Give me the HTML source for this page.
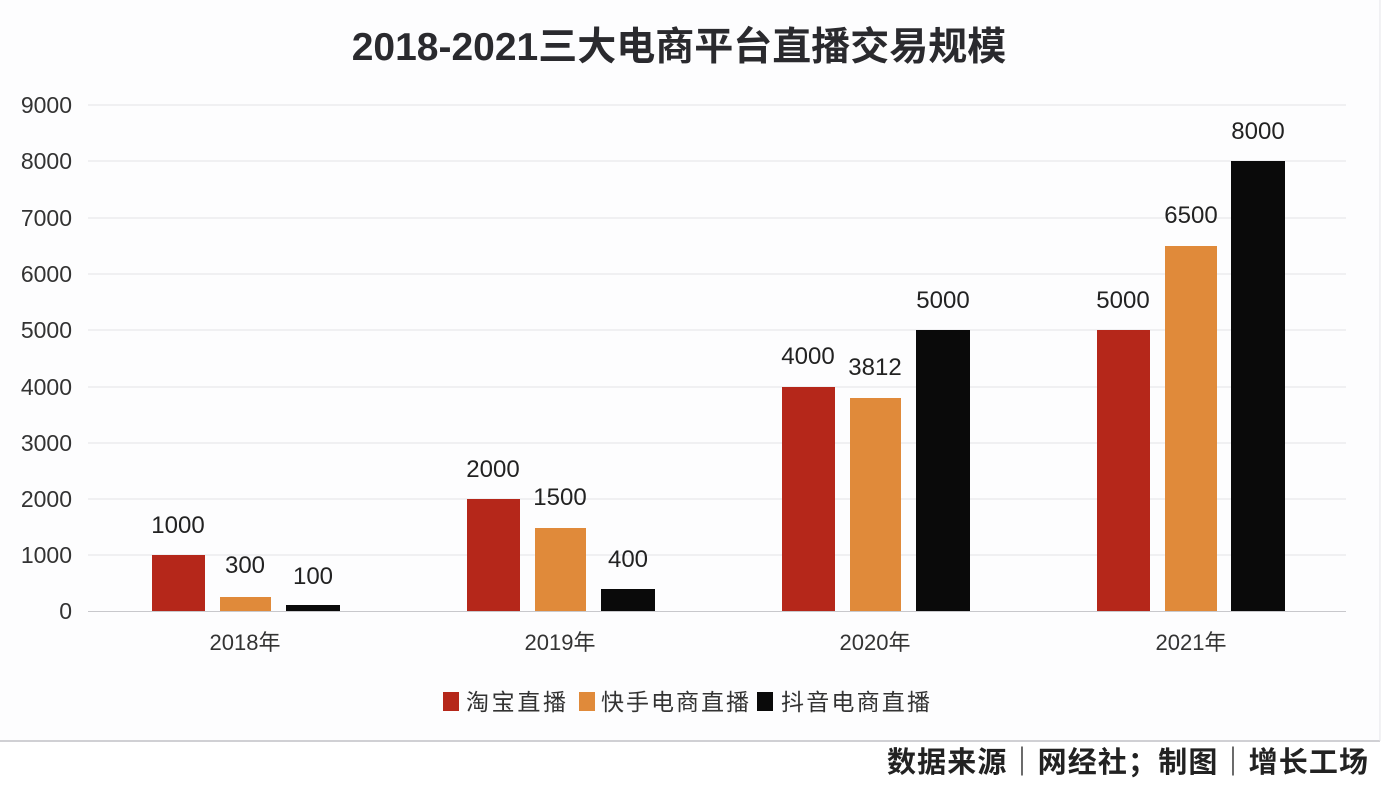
<!DOCTYPE html><html><head><meta charset="utf-8"><style>
body{margin:0;background:#fff;width:1384px;height:786px;overflow:hidden;font-family:"Liberation Sans","Noto Sans CJK SC",sans-serif}
</style></head><body>
<svg width="1384" height="786" xmlns="http://www.w3.org/2000/svg" font-family="Liberation Sans, Noto Sans CJK SC, sans-serif">
<rect width="1384" height="786" fill="#fff"/>
<rect x="0" y="0" width="1380" height="741" fill="#fdfdfe"/>
<line x1="0" y1="741" x2="1380" y2="741" stroke="#d0d0d4" stroke-width="2"/>
<line x1="1380" y1="0" x2="1380" y2="741" stroke="#e4e4e8" stroke-width="1"/>
<text x="679" y="60" text-anchor="middle" font-size="39" font-weight="bold" fill="#2a2a2e">2018-2021三大电商平台直播交易规模</text>
<g stroke="#e2e2e6" stroke-width="1">
<line x1="88" y1="105" x2="1346" y2="105"/><line x1="88" y1="161" x2="1346" y2="161"/><line x1="88" y1="218" x2="1346" y2="218"/><line x1="88" y1="274" x2="1346" y2="274"/><line x1="88" y1="330" x2="1346" y2="330"/><line x1="88" y1="387" x2="1346" y2="387"/><line x1="88" y1="443" x2="1346" y2="443"/><line x1="88" y1="499" x2="1346" y2="499"/><line x1="88" y1="555" x2="1346" y2="555"/>
</g>
<line x1="88" y1="611.5" x2="1346" y2="611.5" stroke="#c8c8cc" stroke-width="1"/>
<g font-size="23" fill="#333" text-anchor="end">
<text x="72" y="113">9000</text><text x="72" y="169">8000</text><text x="72" y="226">7000</text><text x="72" y="282">6000</text><text x="72" y="338">5000</text><text x="72" y="395">4000</text><text x="72" y="451">3000</text><text x="72" y="507">2000</text><text x="72" y="563">1000</text><text x="72" y="619">0</text>
</g>
<g>
<rect x="152" y="555" width="53" height="56" fill="#b5271a"/><rect x="220" y="597" width="51" height="14" fill="#e08a3a"/><rect x="286" y="605" width="54" height="6" fill="#0a0a0a"/>
<rect x="467" y="499" width="53" height="112" fill="#b5271a"/><rect x="535" y="528" width="51" height="83" fill="#e08a3a"/><rect x="601" y="589" width="54" height="22" fill="#0a0a0a"/>
<rect x="782" y="387" width="53" height="224" fill="#b5271a"/><rect x="850" y="398" width="51" height="213" fill="#e08a3a"/><rect x="916" y="330" width="54" height="281" fill="#0a0a0a"/>
<rect x="1097" y="330" width="53" height="281" fill="#b5271a"/><rect x="1165" y="246" width="52" height="365" fill="#e08a3a"/><rect x="1231" y="161" width="54" height="450" fill="#0a0a0a"/>
</g>
<g font-size="24" fill="#222" text-anchor="middle">
<text x="178" y="533">1000</text><text x="245" y="573">300</text><text x="313" y="584">100</text>
<text x="493" y="477">2000</text><text x="560" y="505">1500</text><text x="628" y="567">400</text>
<text x="808" y="364">4000</text><text x="875" y="375">3812</text><text x="943" y="308">5000</text>
<text x="1123" y="308">5000</text><text x="1191" y="223">6500</text><text x="1258" y="139">8000</text>
</g>
<g font-size="22" fill="#333" text-anchor="middle">
<text x="245" y="650">2018年</text><text x="560" y="650">2019年</text><text x="875" y="650">2020年</text><text x="1191" y="650">2021年</text>
</g>
<g font-size="23" fill="#333">
<rect x="443" y="692" width="16" height="19" fill="#b5271a"/><text x="466" y="710" textLength="100">淘宝直播</text>
<rect x="579" y="692" width="16" height="19" fill="#e08a3a"/><text x="601" y="710" textLength="148">快手电商直播</text>
<rect x="757" y="692" width="16" height="19" fill="#0a0a0a"/><text x="781" y="710" textLength="149">抖音电商直播</text>
</g>
<text x="1368" y="772" text-anchor="end" font-size="29" font-weight="bold" fill="#222" textLength="481">数据来源｜网经社；制图｜增长工场</text>
</svg>
</body></html>
